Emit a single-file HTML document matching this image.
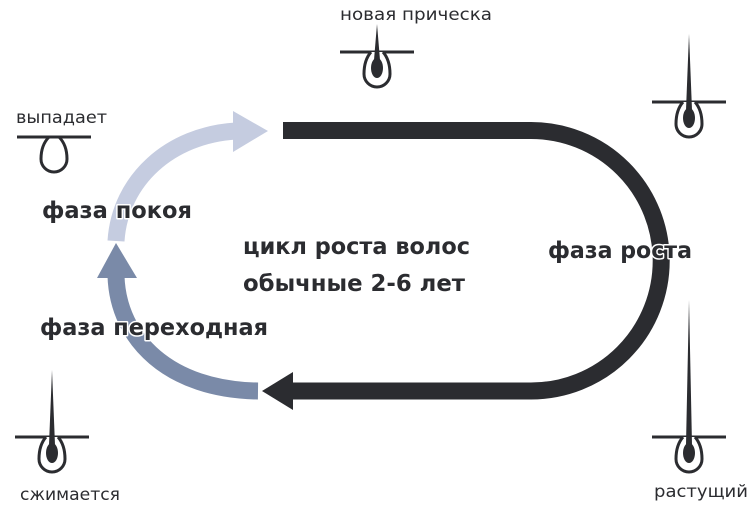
<!DOCTYPE html>
<html><head><meta charset="utf-8"><style>
body{margin:0;background:#fff}
svg{display:block}
text{font-family:"DejaVu Sans","Liberation Sans",sans-serif;fill:#2b2c30}
.b{font-weight:bold;font-size:23px;stroke:#fff;stroke-width:3px;paint-order:stroke;stroke-linejoin:round}
.s{font-size:17px}
</style></head><body>
<svg width="754" height="505" viewBox="0 0 754 505" xmlns="http://www.w3.org/2000/svg">
<defs>
<g id="hair">
<line x1="-37" y1="0" x2="37" y2="0" stroke="#2b2c30" stroke-width="3"/>
<path d="M-6 0 Q-13 8 -13 22 A13 13 0 0 0 13 22 Q13 8 6 0" fill="#fff" stroke="#2b2c30" stroke-width="3"/>
<ellipse cx="0" cy="16" rx="6" ry="10" fill="#2b2c30"/>
</g>
</defs>
<path d="M283 130.5 H531 A130 130 0 0 1 531 391 H290" fill="none" stroke="#2b2c30" stroke-width="17"/>
<polygon points="262,391 293,372 293,410" fill="#2b2c30"/>
<path d="M116 241 C120 180 170 135 236 131" fill="none" stroke="#c5cce0" stroke-width="17"/>
<polygon points="268,131 233,111 233,152" fill="#c5cce0"/>
<path d="M258 391 C170 390 118 340 116 276" fill="none" stroke="#7a8aa8" stroke-width="17"/>
<polygon points="116,243 97,278 137,278" fill="#7a8aa8"/>
<g transform="translate(377,52)"><use href="#hair"/><polygon points="-3,8 0,-28 3,8" fill="#2b2c30"/></g>
<g transform="translate(689,102)"><use href="#hair"/><polygon points="-3,8 0,-68 3,8" fill="#2b2c30"/></g>
<g transform="translate(689,437)"><use href="#hair"/><polygon points="-3,8 0,-137 3,8" fill="#2b2c30"/></g>
<g transform="translate(52,437)"><use href="#hair"/><polygon points="-3,8 0,-67 3,8" fill="#2b2c30"/></g>
<g transform="translate(54,137)">
<line x1="-37" y1="0" x2="37" y2="0" stroke="#2b2c30" stroke-width="3"/>
<path d="M-5 0 Q-13 8 -13 22 A13 13 0 0 0 13 22 Q13 8 5 0" fill="none" stroke="#2b2c30" stroke-width="3"/>
</g>
<text class="b" x="243" y="254" textLength="227" lengthAdjust="spacingAndGlyphs">цикл роста волос</text>
<text class="b" x="243" y="291" textLength="222" lengthAdjust="spacingAndGlyphs">обычные 2-6 лет</text>
<text class="b" x="42" y="218" textLength="150" lengthAdjust="spacingAndGlyphs">фаза покоя</text>
<text class="b" x="40" y="335" textLength="228" lengthAdjust="spacingAndGlyphs">фаза переходная</text>
<text class="b" x="548" y="258" textLength="144" lengthAdjust="spacingAndGlyphs">фаза роста</text>
<text class="s" x="340" y="20" textLength="152" lengthAdjust="spacingAndGlyphs">новая прическа</text>
<text class="s" x="16" y="123" textLength="91" lengthAdjust="spacingAndGlyphs">выпадает</text>
<text class="s" x="20" y="500" textLength="100" lengthAdjust="spacingAndGlyphs">сжимается</text>
<text class="s" x="654" y="497" textLength="94" lengthAdjust="spacingAndGlyphs">растущий</text>
</svg>
</body></html>
